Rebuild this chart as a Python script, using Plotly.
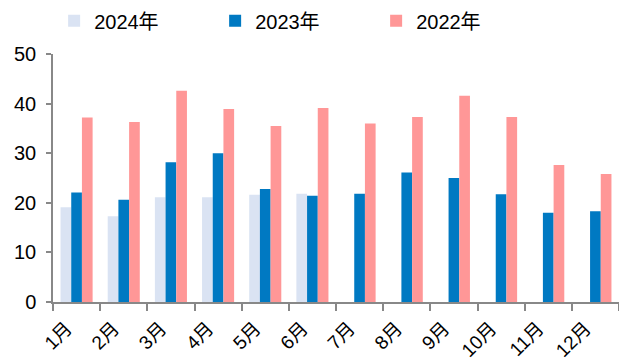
import plotly.graph_objects as go

# Monthly values by year
months = ["1月", "2月", "3月", "4月", "5月", "6月", "7月", "8月", "9月", "10月", "11月", "12月"]
v2024 = [19.1, 17.3, 21.1, 21.1, 21.6, 21.8, None, None, None, None, None, None]
v2023 = [22.1, 20.6, 28.2, 30.0, 22.8, 21.4, 21.8, 26.1, 25.0, 21.7, 18.0, 18.3]
v2022 = [37.2, 36.3, 42.6, 38.9, 35.5, 39.1, 36.0, 37.3, 41.6, 37.3, 27.6, 25.8]

y_ticks = [0, 10, 20, 30, 40, 50]

font_family = "Liberation Sans, Arial, Noto Sans CJK SC, sans-serif"

fig = go.Figure()
fig.add_trace(go.Bar(name="2024年", x=months, y=v2024, marker=dict(color="#DAE3F3", line=dict(width=0))))
fig.add_trace(go.Bar(name="2023年", x=months, y=v2023, marker=dict(color="#0079C2", line=dict(width=0))))
fig.add_trace(go.Bar(name="2022年", x=months, y=v2022, marker=dict(color="#FF9797", line=dict(width=0))))

fig.update_layout(
    width=619,
    height=363,
    margin=dict(l=53, r=0, t=54, b=61),
    paper_bgcolor="white",
    plot_bgcolor="white",
    barmode="group",
    bargap=0.32,
    bargroupgap=0,
    font=dict(family=font_family, size=18, color="black"),
    legend=dict(
        orientation="h",
        x=0.002,
        xanchor="left",
        y=1.055,
        yanchor="bottom",
        entrywidth=116,
        entrywidthmode="pixels",
        font=dict(size=20),
        bgcolor="rgba(0,0,0,0)",
        borderwidth=0,
    ),
    showlegend=True,
)

fig.update_xaxes(
    type="category",
    showgrid=False,
    showline=True,
    linecolor="#888888",
    linewidth=1.5,
    ticks="outside",
    ticklen=7,
    tickcolor="#888888",
    tickwidth=1.5,
    tickson="boundaries",
    tickangle=-45,
    ticklabelshift=-10,
    ticklabelstandoff=6,
    tickfont=dict(size=19),
)
fig.update_yaxes(
    range=[0, 50],
    tickvals=y_ticks,
    showgrid=False,
    zeroline=False,
    showline=True,
    linecolor="#888888",
    linewidth=1.5,
    ticks="outside",
    ticklen=5,
    tickcolor="#888888",
    tickwidth=1.5,
    ticklabelstandoff=6,
    tickfont=dict(size=20),
)

fig.write_html("out.html")
